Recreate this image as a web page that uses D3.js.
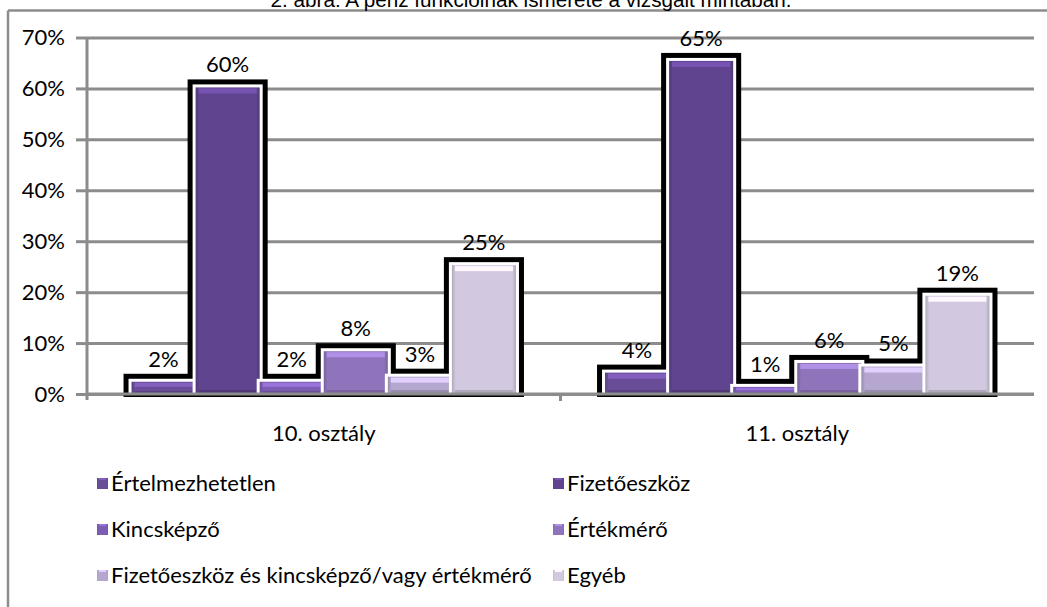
<!DOCTYPE html>
<html>
<head>
<meta charset="utf-8">
<script src="https://cdn.jsdelivr.net/npm/d3@7"></script>
<style>
  body { margin: 0; background: #fff; }
  svg { display: block; }
  text { font-family: Lato, "Open Sans", sans-serif; fill: #000; }
</style>
</head>
<body>
<script>
const width = 1047,
      height = 607;

const title = "2. ábra: A pénz funkcióinak ismerete a vizsgált mintában.";
const categories = ["10. osztály", "11. osztály"];
const seriesNames = [
  "Értelmezhetetlen",
  "Fizetőeszköz",
  "Kincsképző",
  "Értékmérő",
  "Fizetőeszköz és kincsképző/vagy értékmérő",
  "Egyéb"
];
// values per category, in series order (labels are rounded)
const values10 = [0.024, 0.602, 0.024, 0.084, 0.034, 0.253];
const values11 = [0.042, 0.654, 0.014, 0.061, 0.054, 0.193];
const yTicks = [0, 0.1, 0.2, 0.3, 0.4, 0.5, 0.6, 0.7];
const seriesColors = ["#6a4d99", "#614490", "#7c5db2", "#8f74bb", "#b5a7cf", "#d2c9e0"];

const data = categories.map((c, i) => ({
  category: c,
  values: [values10, values11][i].map((v, j) => ({series: seriesNames[j], value: v, idx: j}))
}));

const plot = {left: 87, right: 1034, top: 37.5, bottom: 394};
const gridColor = "#8c8c8c";
const fontSize = "22px";

const svg = d3.select("body").append("svg")
    .attr("width", width)
    .attr("height", height);

// frame (only top and left edges fall inside the picture)
svg.append("line").attr("x1", 8).attr("x2", width).attr("y1", 10.5).attr("y2", 10.5)
    .attr("stroke", gridColor).attr("stroke-width", 2.5);
svg.append("line").attr("x1", 8).attr("x2", 8).attr("y1", 10.5).attr("y2", height)
    .attr("stroke", gridColor).attr("stroke-width", 2.5);

// title, clipped by the top edge as in the source
svg.append("text")
    .attr("x", 531).attr("y", 7)
    .attr("text-anchor", "middle")
    .style("font-family", "'Liberation Sans', Arial, sans-serif")
    .style("font-size", "20.7px")
    .text(title);

const y = d3.scaleLinear().domain([0, 0.7]).range([plot.bottom, plot.top]);
const x0 = d3.scaleBand().domain(categories).range([plot.left, plot.right]).padding(0);
const x1 = d3.scaleBand().domain(seriesNames).range([0, x0.bandwidth()])
    .paddingInner(0).paddingOuter(0.695);

// gridlines
svg.append("g")
    .attr("transform", `translate(${plot.left},0)`)
    .call(d3.axisLeft(y).tickValues(yTicks).tickSize(-(plot.right - plot.left)).tickFormat(""))
    .call(g => g.select(".domain").remove())
    .call(g => g.selectAll("line").attr("stroke", gridColor).attr("stroke-width", 3));

// gradients for the bevelled bars
const defs = svg.append("defs");
seriesColors.forEach((c, i) => {
  const base = d3.color(c);
  const grad = defs.append("linearGradient")
      .attr("id", `grad-${i}`)
      .attr("x1", 0).attr("x2", 1).attr("y1", 0).attr("y2", 0);
  grad.append("stop").attr("offset", "0%").attr("stop-color", base.darker(0.5));
  grad.append("stop").attr("offset", "6%").attr("stop-color", base);
  grad.append("stop").attr("offset", "94%").attr("stop-color", base);
  grad.append("stop").attr("offset", "100%").attr("stop-color", base.darker(0.5));
});

const groups = svg.selectAll(".cat")
  .data(data)
  .enter().append("g")
    .attr("class", "cat")
    .attr("transform", d => `translate(${x0(d.category)},0)`);

// black outline behind every bar
groups.selectAll(".shadow")
  .data(d => d.values)
  .enter().append("rect")
    .attr("class", "shadow")
    .attr("x", d => x1(d.series) - 8)
    .attr("y", d => y(d.value) - 8)
    .attr("width", x1.bandwidth() + 16)
    .attr("height", d => y(0) - y(d.value) + 11)
    .attr("fill", "#000");

const bar = groups.selectAll(".bar")
  .data(d => d.values)
  .enter().append("g")
    .attr("class", "bar");

bar.append("rect")
    .attr("x", d => x1(d.series) - 3)
    .attr("y", d => y(d.value) - 3)
    .attr("width", x1.bandwidth() + 6)
    .attr("height", d => y(0) - y(d.value) + 3)
    .attr("fill", "#fff");

bar.append("rect")
    .attr("x", d => x1(d.series))
    .attr("y", d => y(d.value))
    .attr("width", x1.bandwidth())
    .attr("height", d => y(0) - y(d.value))
    .attr("fill", d => `url(#grad-${d.idx})`);

// top highlight and bottom shade of the bevel
bar.append("rect")
    .attr("x", d => x1(d.series) + 3)
    .attr("y", d => y(d.value) + 1)
    .attr("width", x1.bandwidth() - 6)
    .attr("height", d => Math.min(5, (y(0) - y(d.value)) / 3))
    .attr("fill", d => d3.color(seriesColors[d.idx]).brighter(0.6));

bar.append("rect")
    .attr("x", d => x1(d.series) + 3)
    .attr("y", d => y(0) - Math.min(4, (y(0) - y(d.value)) / 4))
    .attr("width", x1.bandwidth() - 6)
    .attr("height", d => Math.min(4, (y(0) - y(d.value)) / 4))
    .attr("fill", d => d3.color(seriesColors[d.idx]).darker(0.5));

// value labels
groups.selectAll(".label")
  .data(d => d.values)
  .enter().append("text")
    .attr("class", "label")
    .attr("x", d => x1(d.series) + x1.bandwidth() / 2)
    .attr("y", d => y(d.value) - 15)
    .attr("text-anchor", "middle")
    .style("font-size", fontSize)
    .text(d => d3.format(".0%")(d.value));

// y axis
svg.append("g")
    .attr("transform", `translate(${plot.left},0)`)
    .call(d3.axisLeft(y).tickValues(yTicks).tickSize(11).tickPadding(11).tickFormat(d3.format(".0%")))
    .call(g => g.selectAll("path, line").attr("stroke", gridColor).attr("stroke-width", 3))
    .call(g => g.select(".domain").attr("d", `M0,${plot.top}V${plot.bottom + 6}`))
    .call(g => g.selectAll("text").style("font-size", fontSize).style("font-family", "Lato, sans-serif").attr("fill", "#000"));

// x axis with ticks between categories
const xAxis = svg.append("g");
xAxis.append("line")
    .attr("x1", plot.left).attr("x2", plot.right)
    .attr("y1", y(0)).attr("y2", y(0))
    .attr("stroke", gridColor).attr("stroke-width", 3);
xAxis.selectAll(".xtick")
  .data(categories.slice(1))
  .enter().append("line")
    .attr("x1", d => x0(d)).attr("x2", d => x0(d))
    .attr("y1", y(0)).attr("y2", y(0) + 7)
    .attr("stroke", gridColor).attr("stroke-width", 3);
xAxis.selectAll(".xlabel")
  .data(categories)
  .enter().append("text")
    .attr("x", d => x0(d) + x0.bandwidth() / 2)
    .attr("y", 441)
    .attr("text-anchor", "middle")
    .style("font-size", fontSize)
    .text(d => d);

// legend, two columns; a long first-column entry pushes its neighbour right
const legendCols = [97, 553];
const legendRows = [484, 530, 576];
const legend = svg.selectAll(".legend")
  .data(seriesNames)
  .enter().append("g")
    .attr("class", "legend");

legend.append("rect")
    .attr("x", 0).attr("y", -6)
    .attr("width", 11).attr("height", 11)
    .attr("fill", (d, i) => `url(#grad-${i})`);
legend.append("rect")
    .attr("x", 2).attr("y", -6)
    .attr("width", 7).attr("height", 2)
    .attr("fill", (d, i) => d3.color(seriesColors[i]).brighter(0.6));
legend.append("text")
    .attr("x", 14).attr("y", 7)
    .style("font-size", fontSize)
    .text(d => d);

const rowEnds = [];
legend.each(function(d, i) {
  const row = Math.floor(i / 2);
  let x = legendCols[i % 2];
  if (i % 2 === 1) x = Math.max(x, rowEnds[row] + 3);
  d3.select(this).attr("transform", `translate(${x},${legendRows[row]})`);
  rowEnds[row] = x + 14 + d3.select(this).select("text").node().getComputedTextLength();
});
</script>
</body>
</html>
